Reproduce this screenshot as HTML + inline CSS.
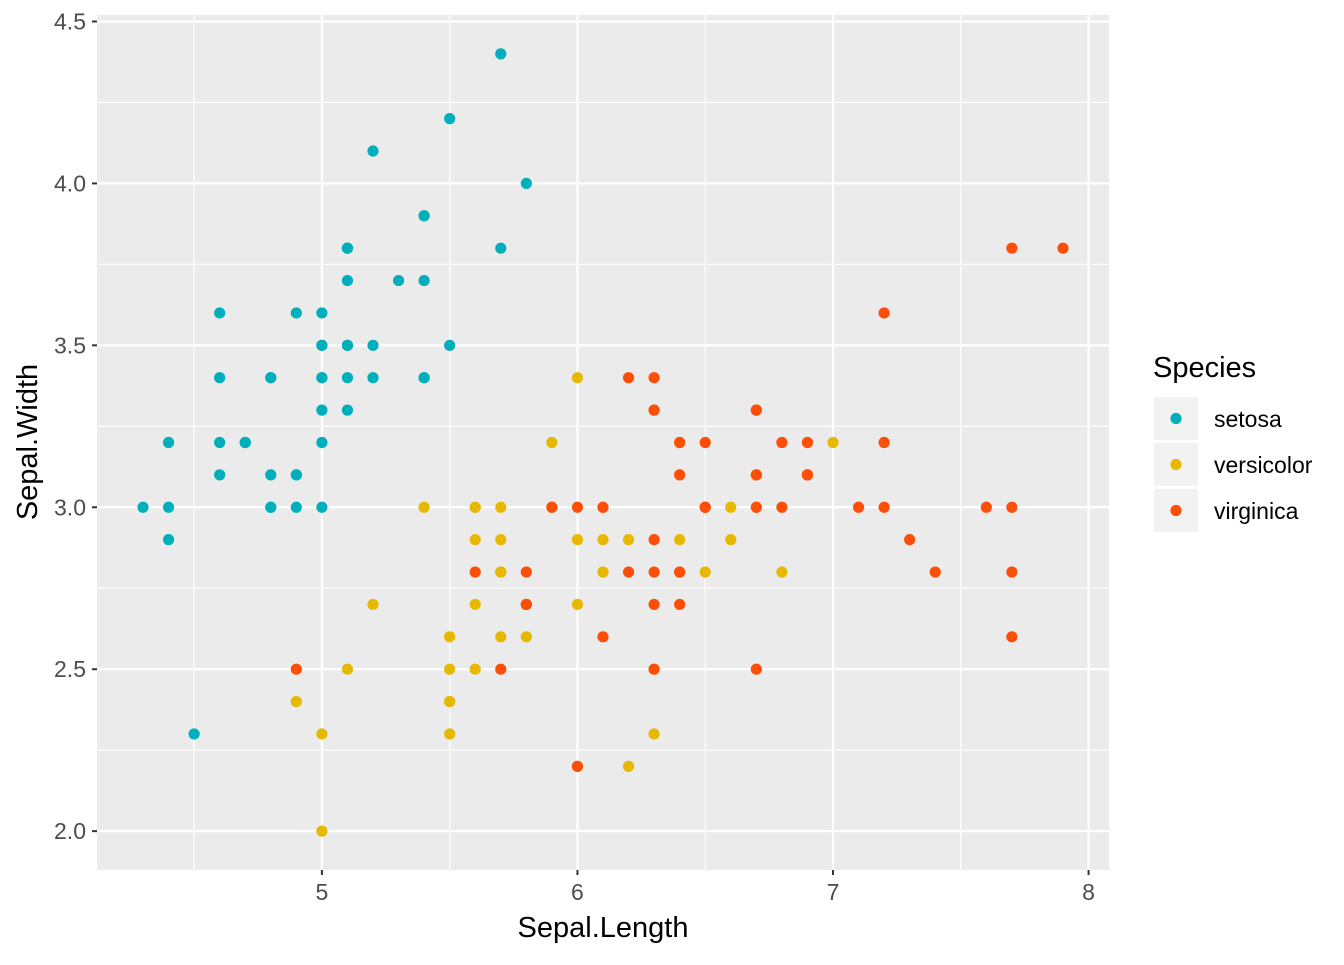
<!DOCTYPE html>
<html><head><meta charset="utf-8"><style>
body{margin:0;background:#fff;}
svg text{font-family:"Liberation Sans",sans-serif;}
</style></head><body>
<svg id="chart" width="1344" height="960" xmlns="http://www.w3.org/2000/svg">
<rect x="0" y="0" width="1344" height="960" fill="#fff"/>
<g id="panel"></g>
<g id="pts"></g>
<g id="axes"></g>
<text x="603" y="937" font-size="29" text-anchor="middle" fill="#000">Sepal.Length</text>
<text transform="translate(37,442) rotate(-90)" font-size="29" text-anchor="middle" fill="#000">Sepal.Width</text>
<g>
<text x="1153" y="377" font-size="29" fill="#000">Species</text>
<g id="legend-keys"></g>
</g>
</svg>
<script>
const setosaX=[5.1,4.9,4.7,4.6,5.0,5.4,4.6,5.0,4.4,4.9,5.4,4.8,4.8,4.3,5.8,5.7,5.4,5.1,5.7,5.1,5.4,5.1,4.6,5.1,4.8,5.0,5.0,5.2,5.2,4.7,4.8,5.4,5.2,5.5,4.9,5.0,5.5,4.9,4.4,5.1,5.0,4.5,4.4,5.0,5.1,4.8,5.1,4.6,5.3,5.0];
const setosaY=[3.5,3.0,3.2,3.1,3.6,3.9,3.4,3.4,2.9,3.1,3.7,3.4,3.0,3.0,4.0,4.4,3.9,3.5,3.8,3.8,3.4,3.7,3.6,3.3,3.4,3.0,3.4,3.5,3.4,3.2,3.1,3.4,4.1,4.2,3.1,3.2,3.5,3.6,3.0,3.4,3.5,2.3,3.2,3.5,3.8,3.0,3.8,3.2,3.7,3.3];
const versicolorX=[7.0,6.4,6.9,5.5,6.5,5.7,6.3,4.9,6.6,5.2,5.0,5.9,6.0,6.1,5.6,6.7,5.6,5.8,6.2,5.6,5.9,6.1,6.3,6.1,6.4,6.6,6.8,6.7,6.0,5.7,5.5,5.5,5.8,6.0,5.4,6.0,6.7,6.3,5.6,5.5,5.5,6.1,5.8,5.0,5.6,5.7,5.7,6.2,5.1,5.7];
const versicolorY=[3.2,3.2,3.1,2.3,2.8,2.8,3.3,2.4,2.9,2.7,2.0,3.0,2.2,2.9,2.9,3.1,3.0,2.7,2.2,2.5,3.2,2.8,2.5,2.8,2.9,3.0,2.8,3.0,2.9,2.6,2.4,2.4,2.7,2.7,3.0,3.4,3.1,2.3,3.0,2.5,2.6,3.0,2.6,2.3,2.7,3.0,2.9,2.9,2.5,2.8];
const virginicaX=[6.3,5.8,7.1,6.3,6.5,7.6,4.9,7.3,6.7,7.2,6.5,6.4,6.8,5.7,5.8,6.4,6.5,7.7,7.7,6.0,6.9,5.6,7.7,6.3,6.7,7.2,6.2,6.1,6.4,7.2,7.4,7.9,6.4,6.3,6.1,7.7,6.3,6.4,6.0,6.9,6.7,6.9,5.8,6.8,6.7,6.7,6.3,6.5,6.2,5.9];
const virginicaY=[3.3,2.7,3.0,2.9,3.0,3.0,2.5,2.9,2.5,3.6,3.2,2.7,3.0,2.5,2.8,3.2,3.0,3.8,2.6,2.2,3.2,2.8,2.8,2.7,3.3,3.2,2.8,3.0,2.8,3.0,2.8,3.8,2.8,2.8,2.6,3.0,3.4,3.1,3.0,3.1,3.1,3.1,2.7,3.2,3.3,3.0,2.5,3.0,3.4,3.0];
const xTicks=[5,6,7,8];
const xMinor=[4.5,5.5,6.5,7.5];
const yTicks=[2.0,2.5,3.0,3.5,4.0,4.5];
const yMinor=[2.25,2.75,3.25,3.75,4.25];
const species=["setosa","versicolor","virginica"];
const colors=["#00AFBB","#E7B800","#FC4E07"];

const PL=97,PR=1109,PT=15,PB=870;
const X0=4.12,X1=8.08,Y0=1.88,Y1=4.52;
const sx=v=>PL+(v-X0)/(X1-X0)*(PR-PL);
const sy=v=>PB-(v-Y0)/(Y1-Y0)*(PB-PT);
const NS="http://www.w3.org/2000/svg";
function mk(tag,attrs,parent){const e=document.createElementNS(NS,tag);for(const k in attrs)e.setAttribute(k,attrs[k]);parent.appendChild(e);return e;}
const panel=document.getElementById('panel');
const bg=mk('rect',{x:PL,y:PT,width:PR-PL,height:PB-PT,fill:'#EBEBEB'},panel);


xMinor.forEach(v=>{const l=mk('line',{x1:sx(v),x2:sx(v),y1:PT,y2:PB,stroke:'#fff','stroke-width':1.1},panel);

});
yMinor.forEach(v=>{const l=mk('line',{x1:PL,x2:PR,y1:sy(v),y2:sy(v),stroke:'#fff','stroke-width':1.1},panel);

});
xTicks.forEach(v=>{const l=mk('line',{x1:sx(v),x2:sx(v),y1:PT,y2:PB,stroke:'#fff','stroke-width':2.2},panel);

});
yTicks.forEach(v=>{const l=mk('line',{x1:PL,x2:PR,y1:sy(v),y2:sy(v),stroke:'#fff','stroke-width':2.2},panel);

});
const axes=document.getElementById('axes');
xTicks.forEach(v=>{const t=mk('line',{x1:sx(v),x2:sx(v),y1:PB,y2:PB+5,stroke:'#333','stroke-width':2},axes);


const tx=mk('text',{x:sx(v),y:PB+30,'font-size':23,'text-anchor':'middle',fill:'#4D4D4D'},axes);tx.textContent=v;

});
yTicks.forEach(v=>{const t=mk('line',{x1:PL-5,x2:PL,y1:sy(v),y2:sy(v),stroke:'#333','stroke-width':2},axes);


const tx=mk('text',{x:PL-11,y:sy(v)+8,'font-size':23,'text-anchor':'end',fill:'#4D4D4D'},axes);tx.textContent=v.toFixed(1);

});
const pts=document.getElementById('pts');
const series=[[setosaX,setosaY],[versicolorX,versicolorY],[virginicaX,virginicaY]];
series.forEach((s,i)=>{s[0].forEach((x,j)=>{const c=mk('circle',{cx:sx(x),cy:sy(s[1][j]),r:5.6,fill:colors[i]},pts);

});});
const lk=document.getElementById('legend-keys');
species.forEach((s,i)=>{const y=397+i*46;
const r=mk('rect',{x:1154,y:y,width:44,height:43,fill:'#F2F2F2'},lk);


const c=mk('circle',{cx:1176,cy:y+21.5,r:5.6,fill:colors[i]},lk);


const t=mk('text',{x:1214,y:y+30,'font-size':23,fill:'#000'},lk);t.textContent=s;

});
</script>
</body></html>
